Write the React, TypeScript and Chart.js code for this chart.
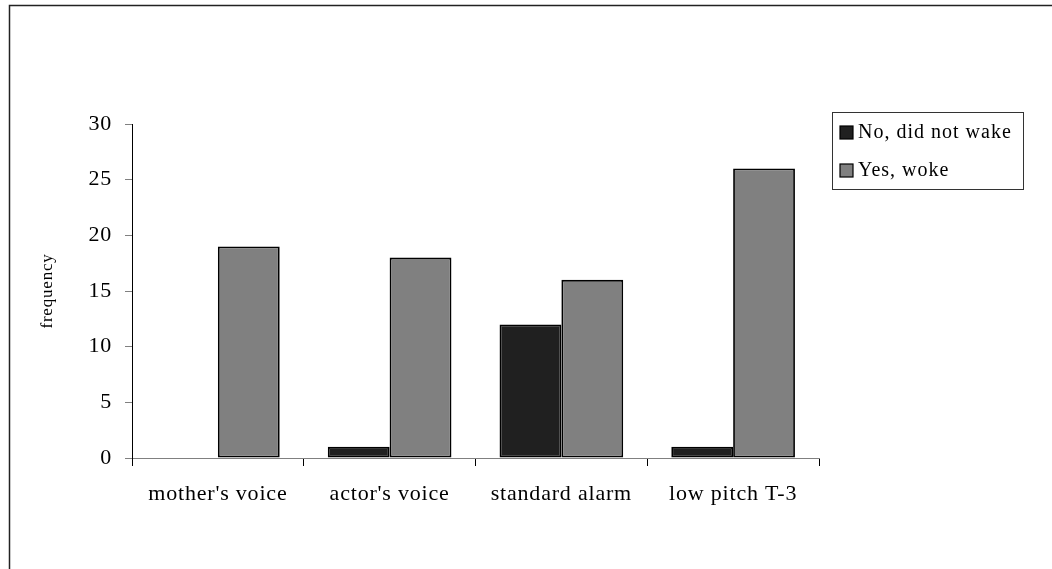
import React, { useEffect, useRef } from "react";
import { Chart, registerables } from "chart.js";

Chart.register(...registerables);

const categories = ["mother's voice", "actor's voice", "standard alarm", "low pitch T-3"];
const noWake = [0, 1, 12, 1];
const yesWoke = [19, 18, 16, 26];
const seriesLabels = ["No, did not wake", "Yes, woke"];
const yTitle = "frequency";

const SERIF = "'Liberation Serif', 'Times New Roman', serif";

const framePlugin = {
  id: "frame",
  beforeDraw(chart: any) {
    const ctx = chart.ctx;
    ctx.save();
    ctx.fillStyle = "#ffffff";
    ctx.fillRect(0, 0, chart.width, chart.height);
    ctx.strokeStyle = "#222222";
    ctx.lineWidth = 1.5;
    ctx.strokeRect(9.5, 5.5, chart.width + 50, chart.height + 50);
    ctx.restore();
    try { (ctx as any).letterSpacing = "0.8px"; } catch (e) {}
  },
};

const boxLegendPlugin = {
  id: "boxLegend",
  afterDraw(chart: any) {
    const ctx = chart.ctx;
    const x0 = 832.5, y0 = 112.5, w = 191, h = 77;
    ctx.save();
    ctx.strokeStyle = "#333333";
    ctx.lineWidth = 1;
    ctx.strokeRect(x0, y0, w, h);
    const rows = [132, 170];
    ctx.font = `20px ${SERIF}`;
    ctx.textBaseline = "middle";
    ctx.textAlign = "left";
    try { (ctx as any).letterSpacing = "1px"; } catch (e) {}
    chart.data.datasets.forEach((ds: any, i: number) => {
      const cy = rows[i];
      ctx.fillStyle = ds.backgroundColor;
      ctx.fillRect(840, cy - 6, 13, 13);
      ctx.strokeStyle = "#000";
      ctx.lineWidth = 1.2;
      ctx.strokeRect(840, cy - 6, 13, 13);
      ctx.fillStyle = "#000";
      ctx.fillText(ds.label, 858, cy + 1);
    });
    ctx.restore();
  },
};

export default function App() {
  const ref = useRef<HTMLCanvasElement | null>(null);
  useEffect(() => {
    if (!ref.current) return;
    const chart = new Chart(ref.current, {
      type: "bar",
      data: {
        labels: categories,
        datasets: [
          {
            label: seriesLabels[0],
            data: noWake,
            backgroundColor: "#202020",
            borderColor: "#000000",
            borderWidth: 1.8,
            borderSkipped: false,
          },
          {
            label: seriesLabels[1],
            data: yesWoke,
            backgroundColor: "#808080",
            borderColor: "#000000",
            borderWidth: 1.8,
            borderSkipped: false,
          },
        ],
      },
      options: {
        animation: false,
        responsive: false,
        devicePixelRatio: 1,
        layout: { padding: { left: 0, top: 124, right: 233, bottom: 0 } },
        datasets: { bar: { categoryPercentage: 0.72, barPercentage: 1 } },
        plugins: {
          legend: { display: false },
          tooltip: { enabled: false },
        },
        scales: {
          x: {
            grid: { offset: true, drawOnChartArea: false, drawTicks: true, tickLength: 8, color: "#000000" },
            border: { color: "#808080", width: 1 },
            ticks: { font: { family: SERIF, size: 22 }, color: "#000000", padding: 15, maxRotation: 0 },
            afterFit(scale: any) { scale.height = 111; },
          },
          y: {
            min: 0,
            max: 30,
            ticks: { stepSize: 5, font: { family: SERIF, size: 22 }, color: "#000000", padding: 13 },
            grid: { drawOnChartArea: false, drawTicks: true, tickLength: 7, color: "#808080" },
            border: { color: "#000000", width: 1 },
            title: {
              display: true,
              text: yTitle,
              font: { family: SERIF, size: 17 },
              color: "#000000",
              padding: { top: 37, bottom: 0 },
            },
            afterFit(scale: any) { scale.width = 132; },
          },
        },
      },
      plugins: [framePlugin, boxLegendPlugin],
    } as any);
    return () => chart.destroy();
  }, []);
  return (
    <div style={{ position: "absolute", left: 0, top: 0, width: 1052, height: 569 }}>
      <canvas ref={ref} width={1052} height={569} />
    </div>
  );
}
